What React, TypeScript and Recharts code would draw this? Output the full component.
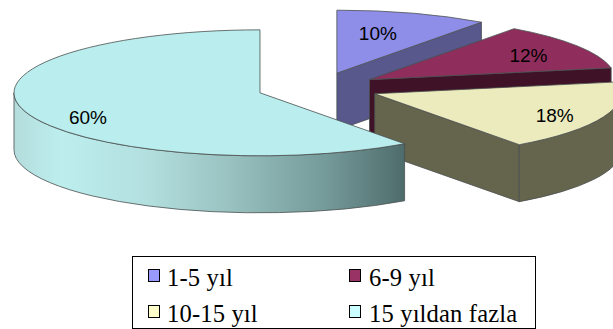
import React from "react";
import { PieChart, Pie, Legend } from "recharts";

const categories = ["1-5 yıl", "6-9 yıl", "10-15 yıl", "15 yıldan fazla"];
const shares = [10, 12, 18, 60];
const faceColors = ["#8e8ee9", "#8f2e5c", "#ecebbd", "#baeded"];
const sideColors = ["#58588c", "#3f1228", "#65654d", "#58787a"];
const legendColors = ["#9999ff", "#993366", "#ffffcc", "#ccffff"];
const labelShifts = [
  [41, -40],
  [159, -24],
  [180, 22],
  [-172, 25],
];

const data = categories.map((name, i) => ({ name, value: shares[i], fill: faceColors[i] }));

// Projection of the tilted pie: vertical squash, wall height, radial explosion.
const SQUASH = 0.256;
const DEPTH = 57;
const EXPLODE = 61;
const EDGE = "#4a4f4f";
const RAD = Math.PI / 180;

function point(cx: number, cy: number, r: number, deg: number) {
  return { x: cx + r * Math.cos(deg * RAD), y: cy - r * SQUASH * Math.sin(deg * RAD) };
}

function explodedCentre(props: any) {
  const mid = (props.startAngle + props.endAngle) / 2;
  return point(props.cx, props.cy, EXPLODE, mid);
}

// One slice: the visible cut face, the outer wall and the top face.
function Slice3D(props: any) {
  const { outerRadius: r, startAngle, endAngle, fill } = props;
  const index = categories.indexOf(props.name);
  const c = explodedCentre(props);
  const a = point(c.x, c.y, r, startAngle);
  const b = point(c.x, c.y, r, endAngle);
  const large = startAngle - endAngle > 180 ? 1 : 0;
  const top = `M${c.x},${c.y}L${a.x},${a.y}A${r},${r * SQUASH} 0 ${large} 1 ${b.x},${b.y}Z`;

  const wallHi = Math.min(startAngle, 0);
  const wallLo = Math.max(endAngle, -180);
  const cutVisible = Math.sin((endAngle - 90) * RAD) < -0.01;
  const isLast = index === categories.length - 1;
  const wallFill = isLast ? "url(#longWall)" : sideColors[index];

  let wall = null;
  if (wallHi > wallLo) {
    const p = point(c.x, c.y, r, wallHi);
    const q = point(c.x, c.y, r, wallLo);
    const d = `M${p.x},${p.y}A${r},${r * SQUASH} 0 0 1 ${q.x},${q.y}L${q.x},${q.y + DEPTH}A${r},${
      r * SQUASH
    } 0 0 0 ${p.x},${p.y + DEPTH}Z`;
    wall = <path d={d} fill={wallFill} stroke={EDGE} strokeWidth={0.8} />;
  }

  return (
    <g>
      {isLast && (
        <defs>
          <linearGradient id="longWall" gradientUnits="userSpaceOnUse" x1={14} y1={0} x2={404} y2={0}>
            <stop offset="0" stopColor="#b4dcdc" />
            <stop offset="0.12" stopColor="#bdeeee" />
            <stop offset="0.35" stopColor="#b2dede" />
            <stop offset="0.55" stopColor="#99c2c1" />
            <stop offset="0.8" stopColor="#749a99" />
            <stop offset="1" stopColor="#4f6c6c" />
          </linearGradient>
        </defs>
      )}
      {cutVisible && (
        <path
          d={`M${c.x},${c.y}L${b.x},${b.y}L${b.x},${b.y + DEPTH}L${c.x},${c.y + DEPTH}Z`}
          fill={sideColors[index]}
          stroke={EDGE}
          strokeWidth={0.8}
        />
      )}
      {wall}
      <path d={top} fill={fill} stroke={EDGE} strokeWidth={0.8} />
    </g>
  );
}

function sliceLabel(props: any) {
  const index = categories.indexOf(props.name);
  const c = explodedCentre(props);
  const [dx, dy] = labelShifts[index];
  return (
    <text
      x={c.x + dx}
      y={c.y + dy}
      textAnchor="middle"
      dominantBaseline="central"
      fontFamily="Liberation Sans"
      fontSize={19}
      fill="#000000"
    >
      {shares[index]}%
    </text>
  );
}

function LegendBox() {
  return (
    <div
      style={{
        width: 404,
        height: 73,
        boxSizing: "border-box",
        border: "1.5px solid #000",
        position: "relative",
        background: "#fff",
        fontFamily: "Liberation Serif",
        fontSize: 24.6,
        lineHeight: "28px",
        letterSpacing: 0.15,
        color: "#000",
      }}
    >
      {categories.map((name, i) => (
        <div
          key={name}
          style={{ position: "absolute", left: i % 2 ? 216 : 15, top: i < 2 ? 7 : 43, whiteSpace: "nowrap" }}
        >
          <span
            style={{
              position: "absolute",
              left: 0,
              top: 5,
              width: 12,
              height: 13,
              boxSizing: "border-box",
              border: "1.5px solid #000",
              background: legendColors[i],
            }}
          />
          <span style={{ marginLeft: i % 2 ? 20 : 19 }}>{name}</span>
        </div>
      ))}
    </div>
  );
}

export default function App() {
  return (
    <div style={{ position: "absolute", left: 0, top: 0, width: 613, height: 329, overflow: "hidden" }}>
      <PieChart width={613} height={329} margin={{ top: 0, right: 0, bottom: 0, left: 0 }}>
        <Pie
          data={data}
          dataKey="value"
          nameKey="name"
          cx={318}
          cy={88}
          innerRadius={0}
          outerRadius={246}
          startAngle={90}
          endAngle={-270}
          stroke="none"
          isAnimationActive={false}
          shape={Slice3D}
          label={sliceLabel}
          labelLine={false}
        />
        <Legend
          content={LegendBox}
          wrapperStyle={{ position: "absolute", left: 132, top: 256, width: 404, height: 73, bottom: "auto" }}
        />
      </PieChart>
    </div>
  );
}
